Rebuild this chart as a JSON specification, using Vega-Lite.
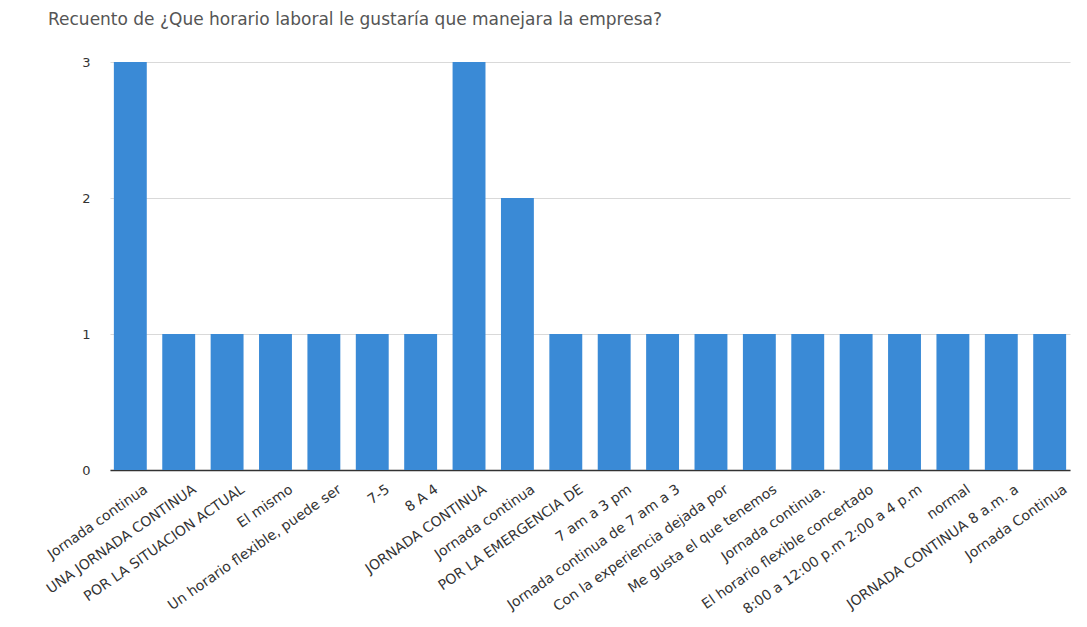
{
  "$schema": "https://vega.github.io/schema/vega-lite/v6.json",
  "autosize": {"type": "none"},
  "padding": {"left": 110, "top": 62, "right": 17, "bottom": 157},
  "width": 960,
  "height": 408,
  "background": "white",
  "title": {
    "text": "Recuento de ¿Que horario laboral le gustaría que manejara la empresa?",
    "anchor": "start",
    "frame": "group",
    "dx": -62,
    "offset": 27,
    "font": "DejaVu Sans",
    "fontSize": 17,
    "fontWeight": "normal",
    "color": "#555555"
  },
  "data": {
    "values": [
      {"respuesta": "Jornada continua", "n": 3},
      {"respuesta": "UNA JORNADA CONTINUA", "n": 1},
      {"respuesta": "POR LA SITUACION ACTUAL", "n": 1},
      {"respuesta": "El mismo", "n": 1},
      {"respuesta": "Un horario flexible, puede ser", "n": 1},
      {"respuesta": "7-5", "n": 1},
      {"respuesta": "8 A 4", "n": 1},
      {"respuesta": "JORNADA CONTINUA", "n": 3},
      {"respuesta": "Jornada continua ", "n": 2},
      {"respuesta": "POR LA EMERGENCIA DE", "n": 1},
      {"respuesta": "7 am a 3 pm", "n": 1},
      {"respuesta": "Jornada continua de 7 am a 3", "n": 1},
      {"respuesta": "Con la experiencia dejada por", "n": 1},
      {"respuesta": "Me gusta el que tenemos", "n": 1},
      {"respuesta": "Jornada continua.", "n": 1},
      {"respuesta": "El horario flexible concertado", "n": 1},
      {"respuesta": "8:00 a 12:00 p.m  2:00 a 4 p.m", "n": 1},
      {"respuesta": "normal", "n": 1},
      {"respuesta": "JORNADA CONTINUA 8 a.m. a", "n": 1},
      {"respuesta": "Jornada Continua", "n": 1}
    ]
  },
  "mark": {"type": "bar", "color": "#3a8ad6"},
  "encoding": {
    "x": {
      "field": "respuesta",
      "type": "nominal",
      "sort": null,
      "scale": {"paddingInner": 0.32, "paddingOuter": 0.08},
      "axis": {
        "title": null,
        "labelAngle": -35,
        "labelFont": "DejaVu Sans",
        "labelFontSize": 14,
        "labelColor": "#333333",
        "labelPadding": 12,
        "labelOffset": 12,
        "ticks": false,
        "domainColor": "#333333",
        "domainWidth": 1.5,
        "labelLimit": 300
      }
    },
    "y": {
      "field": "n",
      "type": "quantitative",
      "scale": {"domain": [0, 3]},
      "axis": {
        "title": null,
        "values": [0, 1, 2, 3],
        "format": "d",
        "ticks": false,
        "domain": false,
        "labelPadding": 20,
        "labelFont": "DejaVu Sans",
        "labelFontSize": 13,
        "labelColor": "#333333",
        "gridColor": "#d9d9d9"
      }
    }
  },
  "config": {"view": {"stroke": null}}
}
